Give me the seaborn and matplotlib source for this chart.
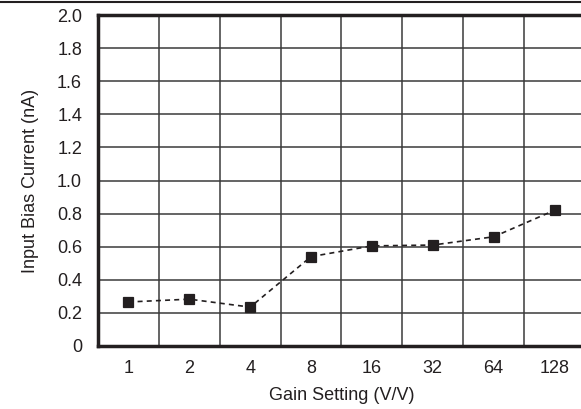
import matplotlib
matplotlib.use("Agg")
import matplotlib.pyplot as plt
from matplotlib.lines import Line2D
from matplotlib.ticker import FixedLocator
import seaborn as sns
import pandas as pd

gain_labels = ["1", "2", "4", "8", "16", "32", "64", "128"]
bias_current = [0.266, 0.283, 0.235, 0.54, 0.605, 0.61, 0.66, 0.82]
y_ticks = [0, 0.2, 0.4, 0.6, 0.8, 1.0, 1.2, 1.4, 1.6, 1.8, 2.0]
y_tick_labels = ["0", "0.2", "0.4", "0.6", "0.8", "1.0", "1.2", "1.4", "1.6", "1.8", "2.0"]

sns.set_theme(style="white")
plt.rcParams["font.family"] = ["Liberation Sans", "DejaVu Sans"]
ink = "#231f20"

df = pd.DataFrame({"Gain": gain_labels, "Current": bias_current})

fig = plt.figure(figsize=(5.81, 4.09), dpi=100)
ax = fig.add_axes([98 / 581, 63 / 409, 487 / 581, 331 / 409])

sns.pointplot(data=df, x="Gain", y="Current", order=gain_labels, ax=ax,
              color=ink, markers="s", linestyles=(0, (3, 2.5)),
              markersize=6.5, linewidth=1.2, errorbar=None)

ax.set_xlim(-0.5, 7.5)
ax.set_ylim(0, 2.0)
ax.set_yticks(y_ticks)
ax.set_yticklabels(y_tick_labels)

ax.xaxis.set_minor_locator(FixedLocator([i + 0.5 for i in range(7)]))
ax.grid(False)
ax.grid(True, which="minor", axis="x", color="#3a3a3a", lw=1.1)
ax.grid(True, which="major", axis="y", color="#3a3a3a", lw=1.1)
ax.set_axisbelow(True)

for side in ["left", "bottom", "top"]:
    ax.spines[side].set_visible(True)
    ax.spines[side].set_color(ink)
    ax.spines[side].set_linewidth(2.5)
ax.spines["right"].set_visible(False)

ax.tick_params(axis="both", which="both", length=0, labelsize=13, labelcolor=ink)
ax.tick_params(axis="y", pad=11.5)
ax.tick_params(axis="x", pad=10)

ax.set_xlabel("Gain Setting (V/V)", fontsize=13, color=ink, labelpad=7)
ax.set_ylabel("Input Bias Current (nA)", fontsize=13, color=ink, labelpad=13)

fig.add_artist(Line2D([0, 1], [1 - 1.5 / 409, 1 - 1.5 / 409],
                      transform=fig.transFigure, color=ink, lw=1.5))

fig.savefig("out.png", dpi=100)
